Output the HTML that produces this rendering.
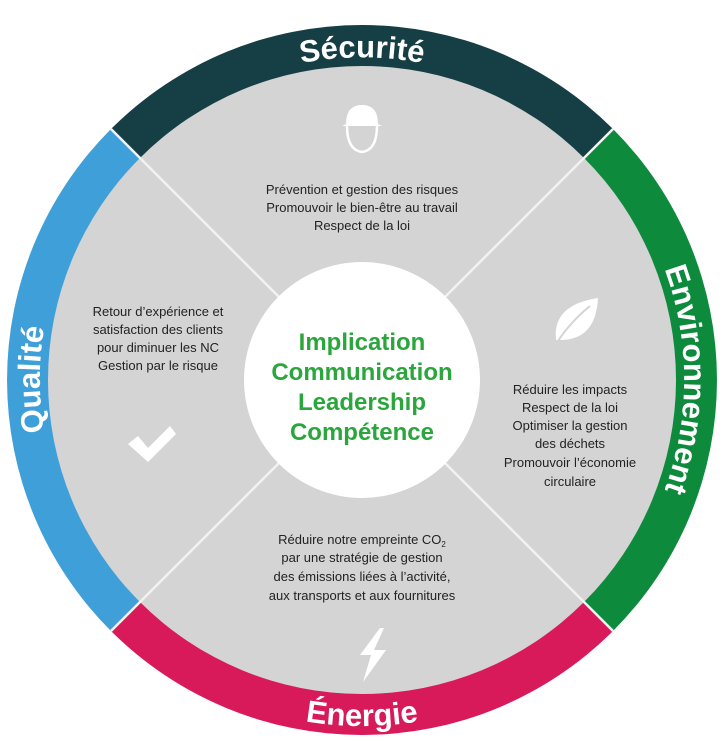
<!DOCTYPE html>
<html><head><meta charset="utf-8"><style>
html,body{margin:0;padding:0;background:#fff;}
svg{display:block;}
.t{font-family:"Liberation Sans",sans-serif;font-size:13px;fill:#222;text-anchor:middle;}
.c{font-family:"Liberation Sans",sans-serif;font-size:24px;font-weight:bold;fill:#2aa63c;text-anchor:middle;}
.r{font-family:"Liberation Sans",sans-serif;font-size:31px;font-weight:bold;fill:#fff;}
</style></head><body>
<svg width="727" height="742" viewBox="0 0 727 742">
<defs>
<path id="pt" d="M134.3,151.7 A322,322 0 0 1 589.7,151.7"/>
<path id="pr" d="M589.7,151.7 A322,322 0 0 1 589.7,607.3"/>
<path id="pb" d="M116.6,624.4 A347,347 0 0 0 607.4,624.4"/>
<path id="pl" d="M134.3,607.3 A322,322 0 0 1 134.3,151.7"/>
</defs>
<g transform="translate(362,380)">
<path d="M-251,-251 A355,355 0 0 1 251,-251 L0,0Z" fill="#163f45"/>
<path d="M251,-251 A355,355 0 0 1 251,251 L0,0Z" fill="#0e8a3d"/>
<path d="M251,251 A355,355 0 0 1 -251,251 L0,0Z" fill="#d81a5a"/>
<path d="M-251,251 A355,355 0 0 1 -251,-251 L0,0Z" fill="#3f9fd8"/>
<circle r="314" fill="#d4d4d4"/>
<line x1="-251" y1="-251" x2="251" y2="251" stroke="#f2f2f2" stroke-width="2.5"/>
<line x1="251" y1="-251" x2="-251" y2="251" stroke="#f2f2f2" stroke-width="2.5"/>
<circle r="118" fill="#fff"/>
</g>
<text class="r"><textPath href="#pt" startOffset="50%" text-anchor="middle">Sécurité</textPath></text>
<text class="r"><textPath href="#pr" startOffset="50%" text-anchor="middle">Environnement</textPath></text>
<text class="r"><textPath href="#pb" startOffset="50%" text-anchor="middle">Énergie</textPath></text>
<text class="r"><textPath href="#pl" startOffset="50%" text-anchor="middle">Qualité</textPath></text>

<text class="c" x="362" y="350">Implication</text>
<text class="c" x="362" y="380">Communication</text>
<text class="c" x="362" y="410">Leadership</text>
<text class="c" x="362" y="440">Compétence</text>

<text class="t" x="362" y="194">Prévention et gestion des risques</text>
<text class="t" x="362" y="212">Promouvoir le bien-être au travail</text>
<text class="t" x="362" y="230">Respect de la loi</text>

<text class="t" x="158" y="316">Retour d’expérience et</text>
<text class="t" x="158" y="334">satisfaction des clients</text>
<text class="t" x="158" y="352">pour diminuer les NC</text>
<text class="t" x="158" y="370">Gestion par le risque</text>

<text class="t" x="570" y="394">Réduire les impacts</text>
<text class="t" x="570" y="412">Respect de la loi</text>
<text class="t" x="570" y="430">Optimiser la gestion</text>
<text class="t" x="570" y="448">des déchets</text>
<text class="t" x="570" y="467">Promouvoir l’économie</text>
<text class="t" x="570" y="486">circulaire</text>

<text class="t" x="362" y="544">Réduire notre empreinte CO<tspan font-size="8" dy="3">2</tspan></text>
<text class="t" x="362" y="562">par une stratégie de gestion</text>
<text class="t" x="362" y="581">des émissions liées à l’activité,</text>
<text class="t" x="362" y="600">aux transports et aux fournitures</text>

<g fill="none" stroke="#fff" stroke-width="2.5">
<path d="M347,126 Q347,150 362,152 Q377,150 377,126" />
</g>
<path d="M346,124 Q346,105 362,105 Q378,105 378,124 L382,126 L342,126Z" fill="#fff"/>
<path d="M556,340 Q552,305 598,298 Q596,340 560,340Z" fill="#fff"/>
<path d="M556,344 Q570,322 590,306" stroke="#d4d4d4" stroke-width="2" fill="none"/>
<path d="M128,444 L138,436 L148,448 L170,426 L176,434 L148,462Z" fill="#fff"/>
<path d="M380,628 L360,655 L371,655 L363,682 L386,650 L374,650 L384,628Z" fill="#fff"/>
</svg>
</body></html>
